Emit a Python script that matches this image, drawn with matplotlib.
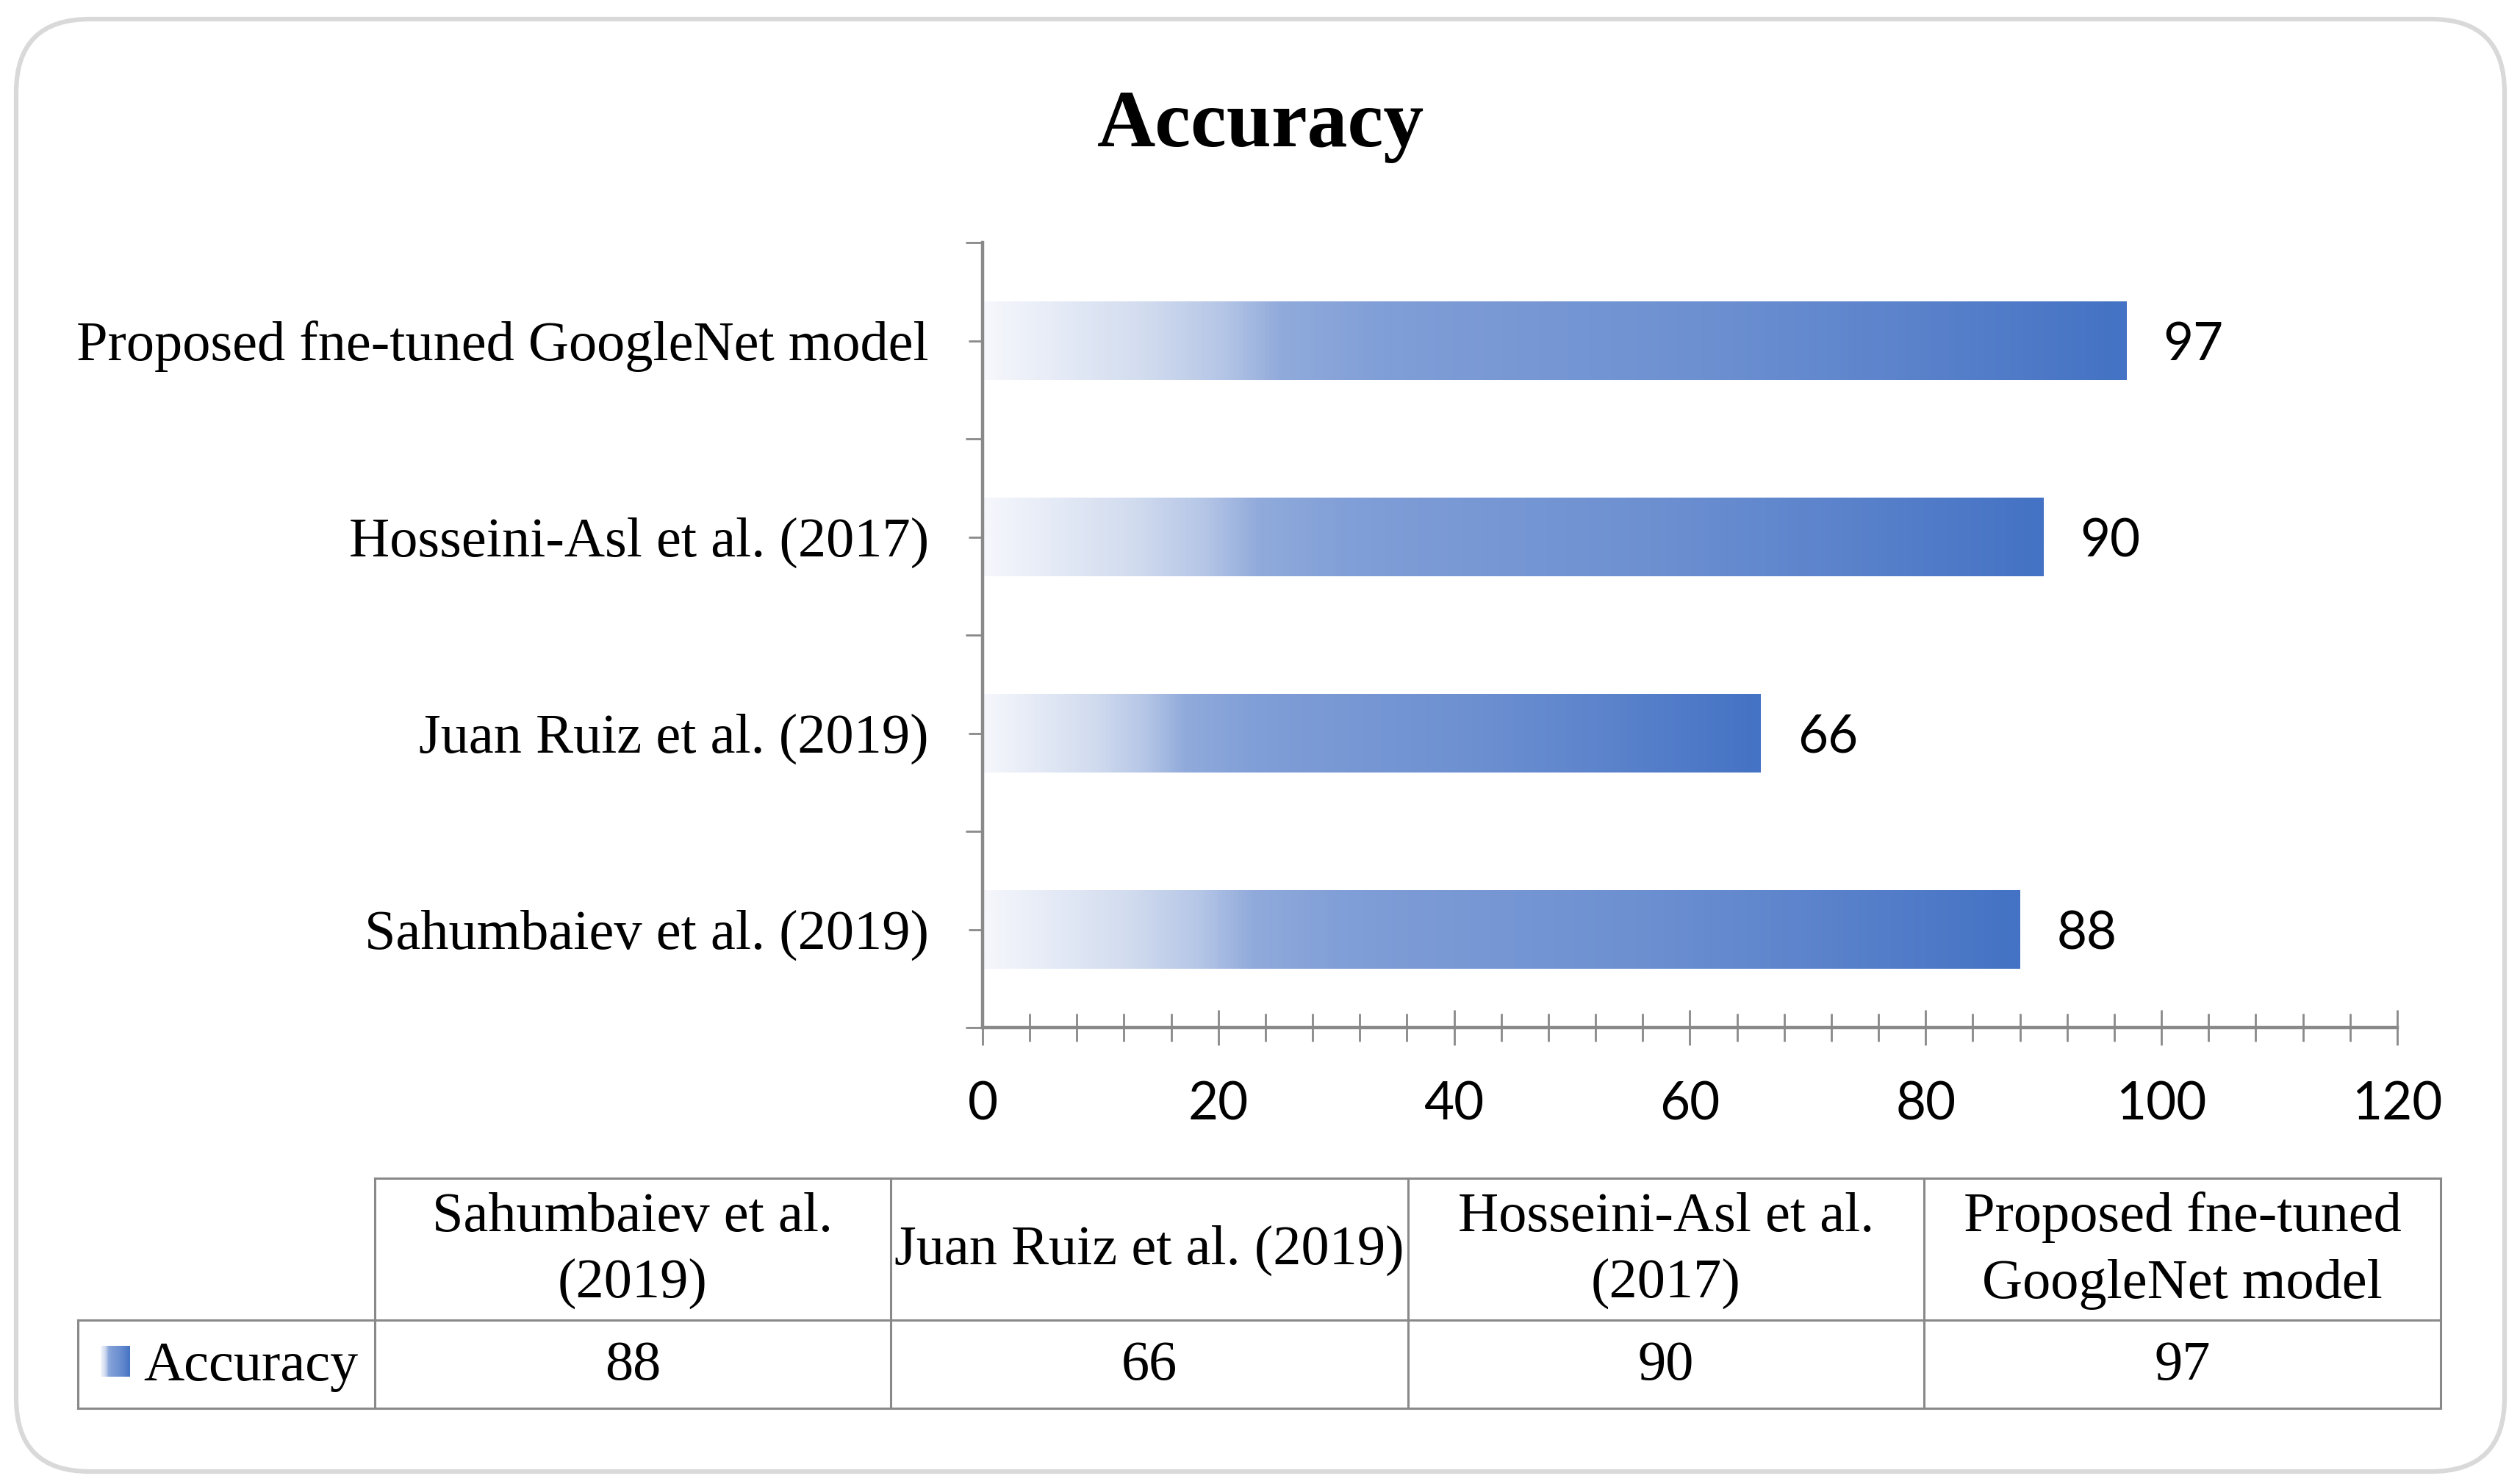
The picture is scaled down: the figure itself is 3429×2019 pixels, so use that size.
import numpy as np
import matplotlib
matplotlib.use('Agg')
import matplotlib.pyplot as plt
from matplotlib.colors import LinearSegmentedColormap
from matplotlib.patches import FancyBboxPatch, Rectangle
from matplotlib.ticker import MultipleLocator

# ---- data ----
categories = ["Sahumbaiev et al. (2019)", "Juan Ruiz et al. (2019)",
              "Hosseini-Asl et al. (2017)", "Proposed fne-tuned GoogleNet model"]
table_headers = ["Sahumbaiev et al.\n(2019)", "Juan Ruiz et al. (2019)",
                 "Hosseini-Asl et al.\n(2017)", "Proposed fne-tuned\nGoogleNet model"]
accuracy = [88, 66, 90, 97]
series_name = "Accuracy"
chart_title = "Accuracy"
x_ticks = [0, 20, 40, 60, 80, 100, 120]

# ---- layout ----
W, H = 3430, 2019
fig = plt.figure(figsize=(W / 100, H / 100), dpi=100)

serif = 'Liberation Serif'
sans = 'Lato'
grey = '#898989'

bg = fig.add_axes([0, 0, 1, 1], zorder=0)
bg.set_xlim(0, W)
bg.set_ylim(H, 0)
bg.axis('off')

border = FancyBboxPatch((22, 26), 3386, 1976,
                        boxstyle='round,pad=0,rounding_size=100',
                        fc='white', ec='#D9D9D9', lw=4.5)
bg.add_patch(border)

bg.text(1716, 199, chart_title, fontfamily=serif, fontweight='bold',
        fontsize=79, ha='center', va='baseline')

cmap = LinearSegmentedColormap.from_list('grad', [
    (0.0, '#F5F7FC'), (0.14, '#D2DCEF'), (0.21, '#B4C5E6'), (0.26, '#90AADB'),
    (0.35, '#809ED7'), (0.63, '#6D90D1'), (0.82, '#5A82CB'), (1.0, '#4472C4')])
grad = np.linspace(0, 1, 512).reshape(1, -1)

# ---- main axes ----
ax = fig.add_axes([1337 / W, 1 - 1398 / H, (3262 - 1337) / W, (1398 - 330) / H], zorder=1)
ax.patch.set_alpha(0)
ypos = np.arange(len(categories))
bars = ax.barh(ypos, accuracy, height=0.4, color='none', edgecolor='none')
for b in bars:
    x0, y0, w, h = b.get_x(), b.get_y(), b.get_width(), b.get_height()
    im = ax.imshow(grad, cmap=cmap, extent=[x0, x0 + w, y0, y0 + h],
                   aspect='auto', interpolation='bilinear', zorder=2)
    im.set_clip_path(b)

ax.set_xlim(0, 120)
ax.set_ylim(-0.5, len(categories) - 0.5)
ax.set_aspect('auto')

for s in ['top', 'right']:
    ax.spines[s].set_visible(False)
for s in ['left', 'bottom']:
    ax.spines[s].set_color(grey)
    ax.spines[s].set_linewidth(3.2)

ax.set_xticks(x_ticks)
ax.set_xticklabels([str(t) for t in x_ticks], fontfamily=sans, fontsize=51)
ax.xaxis.set_minor_locator(MultipleLocator(4))
ax.tick_params(axis='x', which='major', direction='inout', length=34, width=2,
               color=grey, pad=35)
ax.tick_params(axis='x', which='minor', direction='inout', length=27, width=2,
               color=grey)

ax.set_yticks(np.arange(-0.5, len(categories), 1.0))
ax.set_yticklabels([])
ax.set_yticks(ypos, labels=categories, minor=True)
for lab in ax.get_yticklabels(minor=True):
    lab.set_fontfamily(serif)
    lab.set_fontsize(55)
ax.tick_params(axis='y', which='major', direction='out', length=16.5, width=2, color=grey)
ax.tick_params(axis='y', which='minor', direction='inout', length=27, width=2,
               color=grey, pad=39)

labels = ax.bar_label(bars, labels=[str(v) for v in accuracy], padding=36,
                      fontfamily=sans, fontsize=51)
for t in labels:
    t.set_va('center_baseline')

# ---- data table ----
col_edges = [510, 1212, 1916, 2618, 3321]
row_top, row_mid, row_bot = 1603, 1796, 1916
leg_left = 106
lw_t = 2.2
bg.plot([col_edges[0], col_edges[-1]], [row_top, row_top], color=grey, lw=lw_t, solid_capstyle='projecting')
bg.plot([leg_left, col_edges[-1]], [row_mid, row_mid], color=grey, lw=lw_t, solid_capstyle='projecting')
bg.plot([leg_left, col_edges[-1]], [row_bot, row_bot], color=grey, lw=lw_t, solid_capstyle='projecting')
for xe in col_edges:
    bg.plot([xe, xe], [row_top, row_bot], color=grey, lw=lw_t, solid_capstyle='projecting')
bg.plot([leg_left, leg_left], [row_mid, row_bot], color=grey, lw=lw_t, solid_capstyle='projecting')

for i, (hdr, val) in enumerate(zip(table_headers, accuracy)):
    xc = (col_edges[i] + col_edges[i + 1]) / 2
    bg.text(xc, (row_top + row_mid) / 2 + 2, hdr, fontfamily=serif, fontsize=55,
            ha='center', va='center', linespacing=1.4, multialignment='center')
    bg.text(xc, (row_mid + row_bot) / 2 + 3, str(val), fontfamily=serif, fontsize=55,
            ha='center', va='center')

# legend key in table
bg.imshow(grad, cmap=cmap, extent=[137, 177, 1873, 1831], aspect='auto',
          interpolation='bilinear', zorder=3)
bg.set_xlim(0, W)
bg.set_ylim(H, 0)
bg.text(195, (row_mid + row_bot) / 2 + 3, series_name, fontfamily=serif, fontsize=55,
        ha='left', va='center')

fig.savefig('out.png', dpi=100)
